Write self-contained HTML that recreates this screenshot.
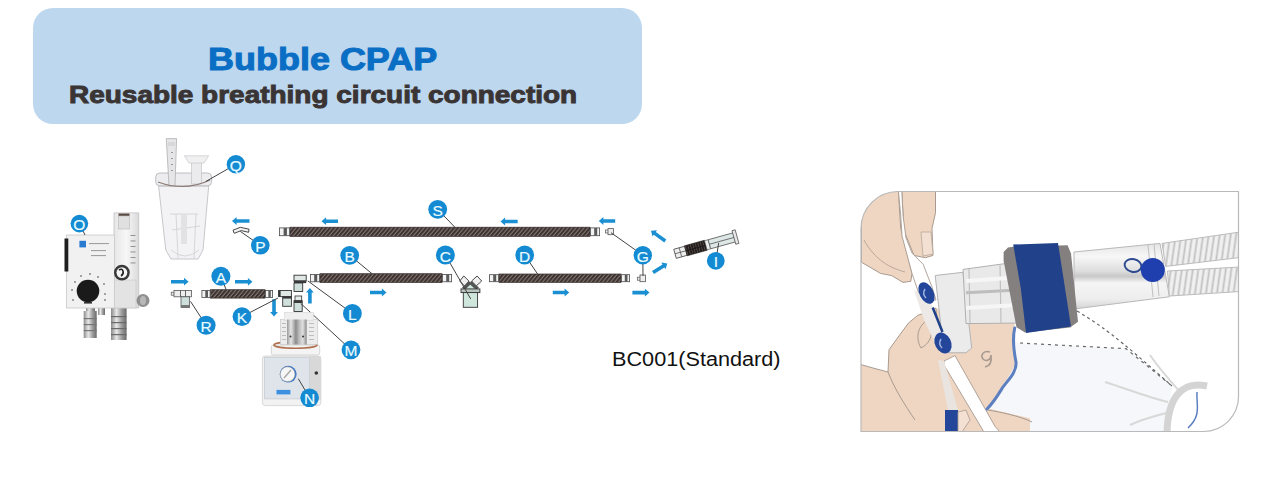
<!DOCTYPE html>
<html><head><meta charset="utf-8">
<style>
html,body{margin:0;padding:0;background:#fff;width:1262px;height:489px;overflow:hidden;position:relative;font-family:"Liberation Sans",sans-serif}
.hdr{position:absolute;left:33px;top:8px;width:609px;height:116px;background:#bdd7ee;border-radius:20px}
.t1{position:absolute;left:208px;top:41px;font:bold 31.5px "Liberation Sans",sans-serif;color:#0a6ec4;white-space:nowrap;transform-origin:0 0;transform:scaleX(1.142);-webkit-text-stroke:1px #0a6ec4}
.t2{position:absolute;left:69px;top:82px;font:bold 23px "Liberation Sans",sans-serif;color:#3a3534;white-space:nowrap;transform-origin:0 0;transform:scaleX(1.216);-webkit-text-stroke:0.9px #3a3534}
.t3{position:absolute;left:612px;top:348px;font:20px "Liberation Sans",sans-serif;color:#111;white-space:nowrap;transform-origin:0 0;transform:scaleX(1.083)}
svg{position:absolute;left:0;top:0}
</style></head><body>
<div class="hdr"></div>
<div class="t1">Bubble CPAP</div>
<div class="t2">Reusable breathing circuit connection</div>
<div class="t3">BC001(Standard)</div>
<svg width="1262" height="489" viewBox="0 0 1262 489">
<defs><pattern id="stripe" patternUnits="userSpaceOnUse" width="4" height="9" patternTransform="skewX(-40)"><rect width="4" height="9" fill="#3b312f"/><rect x="2.6" width="1.3" height="9" fill="#8a7d79"/></pattern></defs>
<rect x="290" y="227.2" width="300" height="9.2" fill="url(#stripe)" stroke="#352b29" stroke-width="0.7"/>
<rect x="279.4" y="227.9" width="10.2" height="7.8" fill="#f2f2f2" stroke="#4a4a4a" stroke-width="0.8"/>
<rect x="283.62" y="227.9" width="3.3" height="7.8" fill="#5a5a5a"/>
<rect x="590.4" y="227.9" width="9.2" height="7.8" fill="#f2f2f2" stroke="#4a4a4a" stroke-width="0.8"/>
<rect x="594.2" y="227.9" width="3.0" height="7.8" fill="#5a5a5a"/>
<rect x="320" y="273.7" width="122" height="8.799999999999999" fill="url(#stripe)" stroke="#352b29" stroke-width="0.7"/>
<rect x="310.4" y="274.4" width="9.2" height="7.3999999999999995" fill="#f2f2f2" stroke="#4a4a4a" stroke-width="0.8"/>
<rect x="314.2" y="274.4" width="3.0" height="7.3999999999999995" fill="#5a5a5a"/>
<rect x="442.4" y="274.4" width="9.2" height="7.3999999999999995" fill="#f2f2f2" stroke="#4a4a4a" stroke-width="0.8"/>
<rect x="446.2" y="274.4" width="3.0" height="7.3999999999999995" fill="#5a5a5a"/>
<rect x="499" y="274.0" width="122" height="8.4" fill="url(#stripe)" stroke="#352b29" stroke-width="0.7"/>
<rect x="489.4" y="274.7" width="9.2" height="7.0" fill="#f2f2f2" stroke="#4a4a4a" stroke-width="0.8"/>
<rect x="493.2" y="274.7" width="3.0" height="7.0" fill="#5a5a5a"/>
<rect x="621.4" y="274.7" width="8.2" height="7.0" fill="#f2f2f2" stroke="#4a4a4a" stroke-width="0.8"/>
<rect x="624.78" y="274.7" width="2.6999999999999997" height="7.0" fill="#5a5a5a"/>
<rect x="210.5" y="289.7" width="54.5" height="8.4" fill="url(#stripe)" stroke="#352b29" stroke-width="0.7"/>
<rect x="201.9" y="290.4" width="8.2" height="7.0" fill="#f2f2f2" stroke="#4a4a4a" stroke-width="0.8"/>
<rect x="205.28" y="290.4" width="2.6999999999999997" height="7.0" fill="#5a5a5a"/>
<rect x="265.4" y="290.4" width="7.2" height="7.0" fill="#f2f2f2" stroke="#4a4a4a" stroke-width="0.8"/>
<rect x="268.36" y="290.4" width="2.4" height="7.0" fill="#5a5a5a"/>
<path d="M171.0,283.5 L184.0,283.5 L184.0,285.6 L188.6,281.7 L184.0,277.8 L184.0,279.9 L171.0,279.9z" fill="#1a8fd2"/>
<path d="M235.0,283.6 L247.9,283.6 L247.9,285.7 L252.5,281.8 L247.9,277.9 L247.9,280.0 L235.0,280.0z" fill="#1a8fd2"/>
<path d="M249.5,219.2 L236.6,219.2 L236.6,217.1 L232.0,221.0 L236.6,224.9 L236.6,222.8 L249.5,222.8z" fill="#1a8fd2"/>
<path d="M338.0,219.4 L326.1,219.4 L326.1,217.3 L321.5,221.2 L326.1,225.1 L326.1,223.0 L338.0,223.0z" fill="#1a8fd2"/>
<path d="M517.7,219.7 L505.1,219.7 L505.1,217.6 L500.5,221.5 L505.1,225.4 L505.1,223.3 L517.7,223.3z" fill="#1a8fd2"/>
<path d="M615.2,219.2 L603.4,219.2 L603.4,217.1 L598.8,221.0 L603.4,224.9 L603.4,222.8 L615.2,222.8z" fill="#1a8fd2"/>
<path d="M370.0,294.3 L381.9,294.3 L381.9,296.4 L386.5,292.5 L381.9,288.6 L381.9,290.7 L370.0,290.7z" fill="#1a8fd2"/>
<path d="M552.8,294.3 L564.6,294.3 L564.6,296.4 L569.2,292.5 L564.6,288.6 L564.6,290.7 L552.8,290.7z" fill="#1a8fd2"/>
<path d="M632.4,294.4 L644.9,294.4 L644.9,296.5 L649.5,292.6 L644.9,288.7 L644.9,290.8 L632.4,290.8z" fill="#1a8fd2"/>
<path d="M666.3,239.4 L655.8,231.9 L657.0,230.2 L651.0,230.7 L652.5,236.5 L653.7,234.8 L664.3,242.4z" fill="#1a8fd2"/>
<path d="M654.0,274.1 L664.4,267.4 L665.5,269.2 L667.3,263.4 L661.3,262.6 L662.5,264.4 L652.0,271.1z" fill="#1a8fd2"/>
<path d="M311.7,303.4 L311.7,292.6 L313.8,292.6 L309.9,288.0 L306.0,292.6 L308.1,292.6 L308.1,303.4z" fill="#1a8fd2"/>
<path d="M272.2,299.3 L272.2,312.0 L270.1,312.0 L274.0,316.6 L277.9,312.0 L275.8,312.0 L275.8,299.3z" fill="#1a8fd2"/>
<defs><linearGradient id="metal" x1="0" x2="1"><stop offset="0" stop-color="#8a8a8a"/><stop offset="0.35" stop-color="#e8e8e8"/><stop offset="0.7" stop-color="#9a9a9a"/><stop offset="1" stop-color="#6a6a6a"/></linearGradient><linearGradient id="col" x1="0" x2="1"><stop offset="0" stop-color="#e6e6e6"/><stop offset="0.5" stop-color="#f7f7f7"/><stop offset="1" stop-color="#dadada"/></linearGradient></defs>
<rect x="86" y="305" width="9" height="6" rx="0" fill="url(#metal)" stroke="none" stroke-width="1" />
<rect x="83.7" y="311" width="13" height="27" rx="0" fill="url(#metal)" stroke="none" stroke-width="1" />
<rect x="83.7" y="318" width="13" height="1.2" rx="0" fill="#777" stroke="none" stroke-width="1" />
<rect x="83.7" y="324" width="13" height="1.2" rx="0" fill="#777" stroke="none" stroke-width="1" />
<rect x="83.7" y="330" width="13" height="1.2" rx="0" fill="#777" stroke="none" stroke-width="1" />
<rect x="98" y="305" width="7" height="10" rx="0" fill="url(#metal)" stroke="none" stroke-width="1" />
<rect x="111" y="305" width="15.6" height="35" rx="0" fill="url(#metal)" stroke="none" stroke-width="1" />
<rect x="111" y="316" width="15.6" height="1.2" rx="0" fill="#6a6a6a" stroke="none" stroke-width="1" />
<rect x="111" y="322" width="15.6" height="1.2" rx="0" fill="#6a6a6a" stroke="none" stroke-width="1" />
<rect x="111" y="328" width="15.6" height="1.2" rx="0" fill="#6a6a6a" stroke="none" stroke-width="1" />
<rect x="111" y="334" width="15.6" height="1.2" rx="0" fill="#6a6a6a" stroke="none" stroke-width="1" />
<rect x="114" y="212.9" width="24.8" height="95" rx="0" fill="url(#col)" stroke="#c4c4c4" stroke-width="0.8" />
<rect x="118.5" y="213.5" width="11" height="2.5" rx="0" fill="#5a4a44" stroke="none" stroke-width="1" />
<rect x="118.5" y="216" width="11" height="13" rx="0" fill="#e0e0e0" stroke="#b8b8b8" stroke-width="0.6" />
<rect x="130.5" y="235.0" width="5" height="0.9" rx="0" fill="#888" stroke="none" stroke-width="1" />
<rect x="130.5" y="240.5" width="5" height="0.9" rx="0" fill="#888" stroke="none" stroke-width="1" />
<rect x="130.5" y="246.0" width="5" height="0.9" rx="0" fill="#888" stroke="none" stroke-width="1" />
<rect x="130.5" y="251.5" width="5" height="0.9" rx="0" fill="#888" stroke="none" stroke-width="1" />
<rect x="130.5" y="257.0" width="5" height="0.9" rx="0" fill="#888" stroke="none" stroke-width="1" />
<rect x="130.5" y="262.5" width="5" height="0.9" rx="0" fill="#888" stroke="none" stroke-width="1" />
<rect x="114" y="280" width="22" height="28" rx="0" fill="#e3e3e3" stroke="#c6c6c6" stroke-width="0.6" />
<rect x="66.5" y="235" width="48" height="73" rx="0" fill="#f1f1f1" stroke="#c9c9c9" stroke-width="0.8" />
<rect x="64.5" y="238.5" width="3.8" height="33" rx="0" fill="#1f1f1f" stroke="none" stroke-width="1" />
<rect x="79.4" y="240.8" width="6.6" height="6.6" rx="0" fill="#2a7ad0" stroke="none" stroke-width="1" />
<rect x="89" y="243" width="20" height="1.1" rx="0" fill="#a0a0a0" stroke="none" stroke-width="1" />
<rect x="91" y="250" width="15" height="1.1" rx="0" fill="#a0a0a0" stroke="none" stroke-width="1" />
<rect x="91" y="255" width="15" height="1.1" rx="0" fill="#a0a0a0" stroke="none" stroke-width="1" />
<circle cx="121.9" cy="272.6" r="7.9" fill="#3a3a3a"/><circle cx="121.9" cy="272.6" r="5.4" fill="#f5f5f5"/><path d="M119,270 q3,-2 4,1 q1,3 -2,5" stroke="#222" stroke-width="1.6" fill="none"/>
<ellipse cx="143" cy="300.5" rx="6.5" ry="6.5" fill="#8f8f8f"/><ellipse cx="143" cy="300.5" rx="3" ry="4.5" fill="#b8b8b8"/>
<circle cx="88" cy="291" r="11.3" fill="#1a1a1a"/>
<rect x="72.2" y="299.2" width="1.6" height="1.6" rx="0" fill="#777" stroke="none" stroke-width="1" />
<rect x="71.2" y="289.2" width="1.6" height="1.6" rx="0" fill="#777" stroke="none" stroke-width="1" />
<rect x="74.2" y="281.2" width="1.6" height="1.6" rx="0" fill="#777" stroke="none" stroke-width="1" />
<rect x="80.2" y="275.2" width="1.6" height="1.6" rx="0" fill="#777" stroke="none" stroke-width="1" />
<rect x="89.2" y="273.2" width="1.6" height="1.6" rx="0" fill="#777" stroke="none" stroke-width="1" />
<rect x="97.2" y="276.2" width="1.6" height="1.6" rx="0" fill="#777" stroke="none" stroke-width="1" />
<rect x="103.2" y="283.2" width="1.6" height="1.6" rx="0" fill="#777" stroke="none" stroke-width="1" />
<rect x="104.2" y="293.2" width="1.6" height="1.6" rx="0" fill="#777" stroke="none" stroke-width="1" />
<rect x="104.2" y="299.2" width="1.6" height="1.6" rx="0" fill="#777" stroke="none" stroke-width="1" />
<rect x="84" y="302" width="8" height="1.6" rx="0" fill="#333" stroke="none" stroke-width="1" />
<line x1="79.4" y1="223.6" x2="85" y2="235" stroke="#444" stroke-width="1"/>
<circle cx="79.4" cy="223.6" r="8.8" fill="#138ad2"/>
<text x="79.4" y="230.2" text-anchor="middle" font-family="Liberation Sans" font-size="15.5" fill="#e8fbff" stroke="#e8fbff" stroke-width="0.2">O</text>
<path d="M158.6,186 L208.7,186 L203,250 L198,259 L171,259 L165.8,250z" fill="#f3f3f5" stroke="#c2c2c6" stroke-width="0.9" />
<path d="M170,214 L198,214 M172,230 L200,226 M176,214 L178,258 M196,214 L194,258 M171,250 Q185,262 199,250" stroke="#d2d2d6" stroke-width="0.9" fill="none"/>
<rect x="181" y="214" width="6" height="30" rx="0" fill="#e2e2e4" stroke="none" stroke-width="1" />
<rect x="155.7" y="173" width="55.9" height="12.8" rx="4" fill="#ededef" stroke="#b8b8bc" stroke-width="0.9" />
<path d="M166.3,138.6 L176.6,138.6 L175,186 L169,186z" fill="#e6e6e8" stroke="#b0b0b4" stroke-width="0.8" />
<rect x="168" y="142" width="7" height="4" rx="0" fill="#d8d8da" stroke="none" stroke-width="1" />
<rect x="171" y="152" width="2" height="1" rx="0" fill="#999" stroke="none" stroke-width="1" />
<rect x="171" y="158" width="2" height="1" rx="0" fill="#999" stroke="none" stroke-width="1" />
<rect x="171" y="164" width="2" height="1" rx="0" fill="#999" stroke="none" stroke-width="1" />
<rect x="171" y="170" width="2" height="1" rx="0" fill="#999" stroke="none" stroke-width="1" />
<rect x="191.5" y="162" width="10" height="22" rx="0" fill="#ebebed" stroke="#bdbdc0" stroke-width="0.6" />
<path d="M184.4,155.8 L208.7,155.8 L204,163 L189,163z" fill="#f0f0f1" stroke="#c0c0c4" stroke-width="0.6" />
<path d="M158,182 Q185,192 210,180" stroke="#8a7a74" stroke-width="1.1" fill="none"/>
<line x1="235.9" y1="164.3" x2="205.8" y2="181.5" stroke="#444" stroke-width="1"/>
<circle cx="235.9" cy="164.3" r="9.2" fill="#138ad2"/>
<text x="235.9" y="170.9" text-anchor="middle" font-family="Liberation Sans" font-size="15.5" fill="#e8fbff" stroke="#e8fbff" stroke-width="0.2">Q</text>
<path d="M233,230.2 L240.3,227.3 L249,229.2 L248.6,232.3 L241.2,230.6 L234.2,233.3z" fill="#f2f2f2" stroke="#333" stroke-width="0.9" />
<line x1="260.3" y1="245.3" x2="240.3" y2="231.4" stroke="#444" stroke-width="1"/>
<circle cx="260.3" cy="245.3" r="9.3" fill="#138ad2"/>
<text x="260.3" y="251.9" text-anchor="middle" font-family="Liberation Sans" font-size="15.5" fill="#e8fbff" stroke="#e8fbff" stroke-width="0.2">P</text>
<rect x="171.2" y="292.2" width="3" height="3" rx="0" fill="#eee" stroke="#555" stroke-width="0.7" />
<rect x="174" y="290.4" width="17.4" height="6.4" rx="0" fill="#eee" stroke="#555" stroke-width="0.8" />
<path d="M180.5,290.4 V296.8 M185.5,290.4 V296.8" stroke="#555" stroke-width="0.9"/>
<rect x="181" y="296.8" width="8.6" height="10.7" rx="0" fill="#cfe0dc" stroke="#555" stroke-width="0.8" />
<rect x="181" y="305" width="8.6" height="2.5" rx="0" fill="#777" stroke="none" stroke-width="1" />
<line x1="206.1" y1="325.3" x2="190.5" y2="301.4" stroke="#444" stroke-width="1"/>
<circle cx="206.1" cy="325.3" r="9.5" fill="#138ad2"/>
<text x="206.1" y="331.90000000000003" text-anchor="middle" font-family="Liberation Sans" font-size="15.5" fill="#e8fbff" stroke="#e8fbff" stroke-width="0.2">R</text>
<line x1="220.9" y1="276.2" x2="226.4" y2="290.4" stroke="#444" stroke-width="1"/>
<circle cx="220.9" cy="276.2" r="9.5" fill="#138ad2"/>
<text x="220.9" y="282.8" text-anchor="middle" font-family="Liberation Sans" font-size="15.5" fill="#e8fbff" stroke="#e8fbff" stroke-width="0.2">A</text>
<rect x="278.6" y="290.5" width="12.8" height="6.1" rx="0" fill="#dfe8e5" stroke="#333" stroke-width="0.9" />
<rect x="278.6" y="290.5" width="2" height="6.1" rx="0" fill="#333" stroke="none" stroke-width="1" />
<rect x="282.7" y="296.6" width="8.7" height="9.7" rx="0" fill="#cfe0dc" stroke="#333" stroke-width="0.9" />
<rect x="282.7" y="296.6" width="8.7" height="2" rx="0" fill="#3a3a3a" stroke="none" stroke-width="1" />
<rect x="294" y="275.2" width="12.2" height="5.8" rx="0" fill="#dfe8e5" stroke="#333" stroke-width="0.9" />
<rect x="294" y="280.5" width="12.2" height="2.6" rx="0" fill="#3a3a3a" stroke="none" stroke-width="1" />
<rect x="294" y="283" width="8.7" height="8.5" rx="0" fill="#cfe0dc" stroke="#333" stroke-width="0.9" />
<rect x="295" y="296" width="6.7" height="4.7" rx="0" fill="#e6eeec" stroke="#333" stroke-width="0.8" />
<rect x="294" y="300.7" width="8.2" height="10.8" rx="0" fill="#cfe0dc" stroke="#333" stroke-width="0.9" />
<rect x="294" y="300.7" width="8.2" height="2.3" rx="0" fill="#3a3a3a" stroke="none" stroke-width="1" />
<line x1="242" y1="316.6" x2="278" y2="298" stroke="#444" stroke-width="1"/>
<circle cx="242" cy="316.6" r="9.4" fill="#138ad2"/>
<text x="242" y="323.20000000000005" text-anchor="middle" font-family="Liberation Sans" font-size="15.5" fill="#e8fbff" stroke="#e8fbff" stroke-width="0.2">K</text>
<line x1="352.4" y1="313.5" x2="307.8" y2="280.9" stroke="#444" stroke-width="1"/>
<circle cx="352.4" cy="313.5" r="9.4" fill="#138ad2"/>
<text x="352.4" y="320.1" text-anchor="middle" font-family="Liberation Sans" font-size="15.5" fill="#e8fbff" stroke="#e8fbff" stroke-width="0.2">L</text>
<line x1="351" y1="349.8" x2="300.7" y2="303.4" stroke="#444" stroke-width="1"/>
<circle cx="351" cy="349.8" r="9.4" fill="#138ad2"/>
<text x="351" y="356.40000000000003" text-anchor="middle" font-family="Liberation Sans" font-size="15.5" fill="#e8fbff" stroke="#e8fbff" stroke-width="0.2">M</text>
<rect x="262.4" y="356" width="58.4" height="49.6" rx="3" fill="#f2f2f2" stroke="#cfcfcf" stroke-width="0.8" />
<rect x="309.6" y="356" width="11.2" height="44" rx="0" fill="#d8d8d8" stroke="none" stroke-width="1" />
<circle cx="316.3" cy="373" r="1.8" fill="#333"/>
<rect x="264.6" y="357.3" width="45" height="41.6" rx="0" fill="#dfe4ea" stroke="#c8ccd2" stroke-width="0.8" />
<circle cx="288.2" cy="374.2" r="8.4" fill="#3a78c8"/><circle cx="287.6" cy="374.2" r="7.4" fill="#f6f6f6" stroke="#999" stroke-width="0.6"/><line x1="284" y1="378" x2="291" y2="370" stroke="#aaa" stroke-width="1.5"/>
<rect x="276.5" y="389.9" width="13.9" height="4.5" rx="0" fill="#3d8fe0" stroke="none" stroke-width="1" />
<rect x="271.3" y="345" width="48.4" height="10" rx="2" fill="#f4f4f4" stroke="#cdcdcd" stroke-width="0.8" />
<defs><linearGradient id="hm" x1="0" x2="1"><stop offset="0" stop-color="#9a9a9a"/><stop offset="0.2" stop-color="#e6e6e6"/><stop offset="0.45" stop-color="#8c8c8c"/><stop offset="0.6" stop-color="#b8b8b8"/><stop offset="0.8" stop-color="#e0e0e0"/><stop offset="1" stop-color="#8a8a8a"/></linearGradient></defs>
<ellipse cx="295.5" cy="345" rx="21.5" ry="3.2" fill="none" stroke="#b0704e" stroke-width="1.6"/>
<rect x="280.3" y="319.5" width="37.5" height="25" rx="0" fill="#ececec" stroke="#c4c4c4" stroke-width="0.6" />
<rect x="284.5" y="312.3" width="29" height="8" rx="0" fill="#efefef" stroke="#cfcfcf" stroke-width="0.5" />
<rect x="287" y="319.5" width="19.7" height="25" rx="0" fill="url(#hm)" stroke="none" stroke-width="1" />
<circle cx="290.5" cy="336.5" r="1" fill="#333"/><circle cx="303" cy="336.5" r="1" fill="#333"/>
<rect x="282" y="323" width="4" height="0.7" rx="0" fill="#aaa" stroke="none" stroke-width="1" />
<rect x="309" y="323" width="5" height="0.7" rx="0" fill="#aaa" stroke="none" stroke-width="1" />
<rect x="282" y="327" width="4" height="0.7" rx="0" fill="#aaa" stroke="none" stroke-width="1" />
<rect x="309" y="327" width="5" height="0.7" rx="0" fill="#aaa" stroke="none" stroke-width="1" />
<rect x="282" y="331" width="4" height="0.7" rx="0" fill="#aaa" stroke="none" stroke-width="1" />
<rect x="309" y="331" width="5" height="0.7" rx="0" fill="#aaa" stroke="none" stroke-width="1" />
<rect x="282" y="335" width="4" height="0.7" rx="0" fill="#aaa" stroke="none" stroke-width="1" />
<rect x="309" y="335" width="5" height="0.7" rx="0" fill="#aaa" stroke="none" stroke-width="1" />
<rect x="282" y="339" width="4" height="0.7" rx="0" fill="#aaa" stroke="none" stroke-width="1" />
<rect x="309" y="339" width="5" height="0.7" rx="0" fill="#aaa" stroke="none" stroke-width="1" />
<line x1="309.6" y1="397.8" x2="298.3" y2="378.7" stroke="#444" stroke-width="1"/>
<circle cx="309.6" cy="397.8" r="9.3" fill="#138ad2"/>
<text x="309.6" y="404.40000000000003" text-anchor="middle" font-family="Liberation Sans" font-size="15.5" fill="#e8fbff" stroke="#e8fbff" stroke-width="0.2">N</text>
<path d="M464.7,286.2 L471,281 L477,286 L477,292 L464,292z" fill="#cfe6dd" stroke="none" stroke-width="1" />
<path d="M463.8,276 L459.7,281 L464.7,286.2 L468.9,281z" fill="#f0f0f0" stroke="#333" stroke-width="0.9" />
<path d="M466.5,283.5 L468.9,281 L471.5,283.5 L464.7,290 L462,287.5z" fill="#555" stroke="none" stroke-width="1" />
<path d="M477.1,276 L481.7,281 L476.2,286 L471.6,281z" fill="#f0f0f0" stroke="#333" stroke-width="0.9" />
<path d="M474,283.5 L471.6,281 L469,283.5 L476.2,290 L479,287.5z" fill="#555" stroke="none" stroke-width="1" />
<rect x="461" y="288.9" width="18.9" height="3.7" rx="0" fill="#b8c4c0" stroke="#333" stroke-width="0.9" />
<rect x="463.3" y="292.6" width="14.3" height="14.7" rx="0" fill="#cfe6dd" stroke="#333" stroke-width="0.9" />
<line x1="445.4" y1="255" x2="470.7" y2="298.9" stroke="#444" stroke-width="1"/>
<circle cx="445.4" cy="255" r="9.5" fill="#138ad2"/>
<text x="445.4" y="261.6" text-anchor="middle" font-family="Liberation Sans" font-size="15.5" fill="#e8fbff" stroke="#e8fbff" stroke-width="0.2">C</text>
<rect x="605.4" y="230" width="3" height="3" rx="0" fill="#eee" stroke="#555" stroke-width="0.7" />
<rect x="608" y="228.6" width="5.6" height="6.1" rx="0" fill="#eee" stroke="#555" stroke-width="0.8" />
<rect x="637.3" y="277.2" width="3" height="3" rx="0" fill="#eee" stroke="#555" stroke-width="0.7" />
<rect x="640" y="275" width="5.6" height="6.7" rx="0" fill="#eee" stroke="#555" stroke-width="0.8" />
<line x1="611" y1="232.7" x2="642.8" y2="255.2" stroke="#444" stroke-width="1"/>
<line x1="642.8" y1="255.2" x2="643" y2="276" stroke="#444" stroke-width="1"/>
<circle cx="642.8" cy="255.2" r="9.2" fill="#138ad2"/>
<text x="642.8" y="261.8" text-anchor="middle" font-family="Liberation Sans" font-size="15.5" fill="#e8fbff" stroke="#e8fbff" stroke-width="0.2">G</text>
<line x1="437.7" y1="209.3" x2="457.5" y2="230" stroke="#444" stroke-width="1"/>
<circle cx="437.7" cy="209.3" r="9.4" fill="#138ad2"/>
<text x="437.7" y="215.9" text-anchor="middle" font-family="Liberation Sans" font-size="15.5" fill="#e8fbff" stroke="#e8fbff" stroke-width="0.2">S</text>
<line x1="349.7" y1="255.3" x2="372" y2="273.7" stroke="#444" stroke-width="1"/>
<circle cx="349.7" cy="255.3" r="9.4" fill="#138ad2"/>
<text x="349.7" y="261.90000000000003" text-anchor="middle" font-family="Liberation Sans" font-size="15.5" fill="#e8fbff" stroke="#e8fbff" stroke-width="0.2">B</text>
<line x1="524.7" y1="255" x2="537.8" y2="274.3" stroke="#444" stroke-width="1"/>
<circle cx="524.7" cy="255" r="9.4" fill="#138ad2"/>
<text x="524.7" y="261.6" text-anchor="middle" font-family="Liberation Sans" font-size="15.5" fill="#e8fbff" stroke="#e8fbff" stroke-width="0.2">D</text>
<g transform="translate(675,253.8) rotate(-15.5) scale(0.94)">
<rect x="0" y="-5" width="12" height="10" rx="0" fill="#eee" stroke="#444" stroke-width="0.8" />
<line x1="6" y1="-5" x2="6" y2="5" stroke="#555" stroke-width="0.8"/>
<rect x="12" y="-5.5" width="22" height="11" rx="0" fill="#221c1b" stroke="#222" stroke-width="0.6" />
<rect x="12.5" y="-5" width="0.8" height="10" rx="0" fill="#5e5350" stroke="none" stroke-width="1" />
<rect x="15.2" y="-5" width="0.8" height="10" rx="0" fill="#5e5350" stroke="none" stroke-width="1" />
<rect x="17.9" y="-5" width="0.8" height="10" rx="0" fill="#5e5350" stroke="none" stroke-width="1" />
<rect x="20.6" y="-5" width="0.8" height="10" rx="0" fill="#5e5350" stroke="none" stroke-width="1" />
<rect x="23.3" y="-5" width="0.8" height="10" rx="0" fill="#5e5350" stroke="none" stroke-width="1" />
<rect x="26.0" y="-5" width="0.8" height="10" rx="0" fill="#5e5350" stroke="none" stroke-width="1" />
<rect x="28.700000000000003" y="-5" width="0.8" height="10" rx="0" fill="#5e5350" stroke="none" stroke-width="1" />
<rect x="31.400000000000002" y="-5" width="0.8" height="10" rx="0" fill="#5e5350" stroke="none" stroke-width="1" />
<line x1="12" y1="0" x2="34" y2="0" stroke="#1a1a1a" stroke-width="1"/>
<rect x="34" y="-5" width="4" height="10" rx="0" fill="#eee" stroke="#444" stroke-width="0.6" />
<rect x="38" y="-5" width="28" height="10" rx="0" fill="#dde8e6" stroke="#555" stroke-width="0.8" />
<rect x="65" y="-7.5" width="3.5" height="15" rx="0" fill="#e8e8e8" stroke="#555" stroke-width="0.8" />
<line x1="38" y1="0" x2="65" y2="0" stroke="#555" stroke-width="0.8"/>
<line x1="0" y1="0" x2="12" y2="0" stroke="#555" stroke-width="0.8"/>
</g>
<line x1="715.8" y1="260.8" x2="718.7" y2="242.9" stroke="#444" stroke-width="1"/>
<circle cx="715.8" cy="260.8" r="8.9" fill="#138ad2"/>
<text x="715.8" y="267.40000000000003" text-anchor="middle" font-family="Liberation Sans" font-size="15.5" fill="#e8fbff" stroke="#e8fbff" stroke-width="0.2">I</text>
<defs><clipPath id="pc"><path d="M898,191.5 L1238.5,191.5 L1238.5,396 A35,35 0 0 1 1203.5,431.5 L861,431.5 L861,228.5 A37,37 0 0 1 898,191.5z"/></clipPath></defs>
<g clip-path="url(#pc)">
<path d="M861,364.6 L873,368 L888,372 L889,349.7 L899.8,334.8 L908.7,322.8 L917.7,315.4 L929.6,311 L936,308 L966,323.6 L1014.7,323 L1013.3,347 L1016,364 L1005,383 L996.7,400 L988.3,408.3 L1030,418 L1030,432 L861,432z" fill="#efd6c2" stroke="none" stroke-width="1" />
<path d="M861,364.6 L873,368 L888,372 L889,349.7 L899.8,334.8 L908.7,322.8 L917.7,315.4 L929.6,311 L936,308" stroke="#a89a90" stroke-width="1" fill="none"/>
<path d="M888,372 C895,390 905,405 915,420" stroke="#a89a90" stroke-width="1" fill="none"/>
<path d="M990,352 C984,350 980,355 983,359 C986,362 991,360 991,355 C992,362 990,366 985,367" stroke="#a89a90" stroke-width="1.6" fill="none"/>
<path d="M921,348 C915,338 918,325 928,320 C934,328 933,342 921,348z" stroke="#a89a90" stroke-width="1" fill="none"/>
<path d="M936,308 L941,352 L966,352 L972,346" stroke="#a89a90" stroke-width="0.8" fill="none"/>
<path d="M861,191 L898.4,191 L900.7,228.4 L912,273.4 L910.8,281.3 L903,282.4 L891.7,275.6 L880.5,273.4 L861.4,262.2z" fill="#efd6c2" stroke="#a89a90" stroke-width="1" />
<path d="M864,240 C875,260 890,268 905,272" stroke="#b8a89c" stroke-width="1" fill="none"/>
<path d="M901.8,191 L935.5,191 L935.5,212.7 L932,228.4 L933,255.4 L925.4,257.7 L914,255.4 L904,230.7z" fill="#efd6c2" stroke="#a89a90" stroke-width="1" />
<path d="M921,232 L931,232 L933,254 L923,256z" fill="#f3e0d2" stroke="#b8a89c" stroke-width="0.8"/>
<path d="M898.4,191 L901.8,191 L903,215 L906,238 L912,253 L923.2,264.4 L932,287 L936,300 L921,300 L912,273.4 L902,236 L900.7,215z" fill="#ffffff" stroke="#a89a90" stroke-width="0.9" />
<path d="M914,290 L930,300 L944,340 L936,345 L924,320z" fill="#ece9e6" stroke="none" stroke-width="1" />
<path d="M935.2,275.5 L963,272.3 L971.7,348 L966,352.8 L948,352.8 L942.5,340z" fill="#ebebec" stroke="#b4b4b4" stroke-width="1" />
<path d="M963,269.4 L1024,261 L1024,323 L966,323.6z" fill="#e9e9ea" stroke="#b0b0b0" stroke-width="1" />
<path d="M966,292.7 L1020,290" stroke="#bdbdbd" stroke-width="3"/>
<path d="M969,269 L970,323 M1000,264 L1001,323" stroke="#c0c0c0" stroke-width="1.2"/>
<path d="M966,281 L1020,277" stroke="#f6f6f6" stroke-width="4"/>
<path d="M966,308 L1020,305" stroke="#f6f6f6" stroke-width="4"/>
<path d="M944,361 L955,355.6 L995,426.4 L1000,432 L984,432 L944,365z" fill="#ffffff" stroke="#a89a90" stroke-width="0.9" />
<path d="M938,360 L944,361 L958,410 L948,410z" fill="#e9e4e0" stroke="none" stroke-width="1" />
<defs><linearGradient id="cyl" x1="0" y1="0" x2="0" y2="1"><stop offset="0" stop-color="#e4e4e4"/><stop offset="0.2" stop-color="#f7f7f7"/><stop offset="0.42" stop-color="#dedede"/><stop offset="0.5" stop-color="#c8c8c8"/><stop offset="0.6" stop-color="#f5f5f5"/><stop offset="0.85" stop-color="#ededed"/><stop offset="1" stop-color="#d4d4d4"/></linearGradient></defs>
<path d="M1074,252 L1160,243.4 L1169.4,296.8 L1074,309z" fill="url(#cyl)" stroke="#b8b8b8" stroke-width="1" />
<path d="M1148,245 L1153,297 M1154,244 L1159,296" stroke="#c0c0c0" stroke-width="1"/>
<defs><pattern id="corr" patternUnits="userSpaceOnUse" width="5.5" height="40" patternTransform="skewX(-8)"><rect width="5.5" height="40" fill="#f0f0f0"/><rect x="3.3" width="1.8" height="40" fill="#c2c2c2"/></pattern></defs>
<path d="M1162,243.4 L1240,232 L1240,257.5 L1165.7,266.4z" fill="url(#corr)" stroke="#bbbbbb" stroke-width="1" />
<path d="M1167.5,271 L1240,267 L1240,291.5 L1169.4,296z" fill="url(#corr)" stroke="#bbbbbb" stroke-width="1" />
<ellipse cx="1133" cy="265.5" rx="8.5" ry="6.4" transform="rotate(12 1133 265.5)" fill="none" stroke="#2d4a90" stroke-width="2"/>
<circle cx="1152.8" cy="270" r="12" fill="#1f3fae"/>
<path d="M1003.6,252 L1008,247.5 L1013.2,246.8 L1067.6,245.3 L1071,253.5 L1078,321.8 L1075,324 L1070,327.6 L1025,332.4 L1016.5,327.3 L1003.6,260.8z" fill="#858080" stroke="none" stroke-width="1" />
<path d="M1013.2,244.5 L1058,243 L1071,326.5 L1026,333 L1020.8,288.6z" fill="#21428a" stroke="none" stroke-width="1" />
<path d="M1017,343 L1126,348.7 L1172,386 L1165,432 L1030,432 L1030,418 L988.3,408.3 L996.7,400 L1005,383 L1016,364 L1013.3,347 L1014.7,330z" fill="#f5f7fb" stroke="none" stroke-width="1" />
<path d="M1014.7,328 C1012,340 1014,352 1016,362 C1017,372 1008,380 1003,387 C998,395 994,402 987,409" stroke="#5b7fc0" stroke-width="3" fill="none" stroke-linecap="round"/>
<path d="M988,410 C1000,412 1020,416 1032,422" stroke="#a89a90" stroke-width="1" fill="none"/>
<path d="M1077,311 C1100,325 1115,335 1172,386" stroke="#666" stroke-width="1.2" stroke-dasharray="3 3" fill="none"/>
<path d="M1020,343 L1126,348.7 L1172,386" stroke="#666" stroke-width="1.2" stroke-dasharray="3 4" fill="none"/>
<path d="M1150,355 C1160,370 1170,380 1180,392 M1105,382 C1130,390 1150,398 1168,402 M1130,425 C1145,418 1160,415 1170,412" stroke="#d8d8d8" stroke-width="2" fill="none"/>
<path d="M1167,432 C1168,400 1180,380 1207,386" stroke="#d4d4d4" stroke-width="7" fill="none"/>
<path d="M1197,392 C1196,405 1202,415 1188,428" stroke="#5b7fc0" stroke-width="1.5" fill="none"/>
<line x1="932.7" y1="307.5" x2="942.5" y2="332" stroke="#21428a" stroke-width="2.5"/>
<ellipse cx="926.5" cy="293" rx="7" ry="11.5" transform="rotate(-27 926.5 293)" fill="#24469a"/>
<ellipse cx="943" cy="343" rx="8" ry="11" transform="rotate(-27 943 343)" fill="#24469a"/>
<path d="M925,289 q-3,5 1,9" stroke="#9fb3e0" stroke-width="1.5" fill="none"/>
<path d="M941,339 q-3,5 1,9" stroke="#9fb3e0" stroke-width="1.5" fill="none"/>
<rect x="945" y="410" width="13" height="22" rx="0" fill="#24469a" stroke="none" stroke-width="1" />
<path d="M958,412 L966,410 L970,420 L962,432 L958,432z" fill="#f3e0d2" stroke="#a89a90" stroke-width="0.8" />
</g>
<path d="M898,191.5 L1238.5,191.5 L1238.5,396 A35,35 0 0 1 1203.5,431.5 L861,431.5 L861,228.5 A37,37 0 0 1 898,191.5z" fill="none" stroke="#b9b9b9" stroke-width="1.2"/>
</svg>
</body></html>
